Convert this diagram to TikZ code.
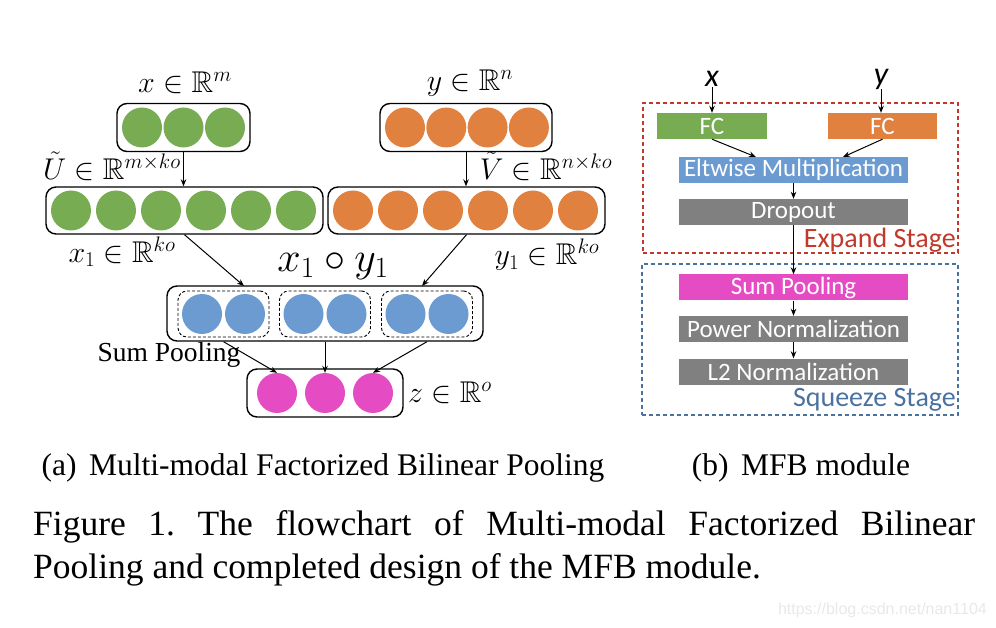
\RequirePackage{fix-cm}
\documentclass[tikz,border=0pt]{standalone}
\usepackage{amssymb}
\usepackage{fontspec}
\setmainfont{Liberation Serif}
\newfontfamily\calibrifont{Carlito}
\newfontfamily\markfont{Liberation Sans}
\usetikzlibrary{arrows.meta}

\definecolor{mfbgreen}{HTML}{78AC52}
\definecolor{mfborange}{HTML}{E0813F}
\definecolor{mfbblue}{HTML}{6B9BD1}
\definecolor{mfbpink}{HTML}{E54CC3}
\definecolor{mfbgray}{HTML}{808080}
\definecolor{mfbred}{HTML}{C0392B}
\definecolor{mfbnavy}{HTML}{4A72A0}

\begin{document}
\begin{tikzpicture}[x=1pt,y=-1pt,
  unit/.style={circle,inner sep=0pt,minimum size=40pt},
  vecbox/.style={draw,rounded corners=10pt,line width=1.4pt,inner sep=0pt},
  group/.style={draw,dash pattern=on 3pt off 2pt,rounded corners=9pt,line width=0.9pt,
    minimum width=91pt,minimum height=46pt,inner sep=0pt},
  arr/.style={-{Stealth[length=7pt,width=5.5pt]},line width=1pt},
  mathlab/.style={font=\fontsize{30}{36}\selectfont,inner sep=0pt},
  layer/.style={font=\calibrifont\fontsize{25}{28}\selectfont,text=white,
    minimum width=229pt,minimum height=26pt,inner sep=0pt},
  stage/.style={draw,dash pattern=on 4pt off 3pt,line width=1.2pt,inner sep=0pt},
  stagelab/.style={font=\calibrifont\fontsize{28}{32}\selectfont,inner sep=0pt,anchor=east}]
  \useasboundingbox (0,0) rectangle (996,628);

  % (a) input vectors
  \node[vecbox,minimum width=133pt,minimum height=48pt] (xin) at (183.5,127.5) {};
  \foreach \i in {1,...,3}
    \node[unit,fill=mfbgreen] (xin\i) at ({100.5+41.5*\i},127.5) {};
  \node[vecbox,minimum width=172pt,minimum height=48pt] (yin) at (466,127.5) {};
  \foreach \i in {1,...,4}
    \node[unit,fill=mfborange] (yin\i) at ({363.7+41.3*\i},127.5) {};
  \node[mathlab] (xlab) at (185,83) {$x\in\mathbb{R}^m$};
  \node[mathlab] (ylab) at (470,83) {$y\in\mathbb{R}^n$};

  % (a) projected vectors
  \node[vecbox,minimum width=277pt,minimum height=47pt] (xbig) at (184.5,210.5) {};
  \foreach \i in {1,...,6}
    \node[unit,fill=mfbgreen] (xbig\i) at ({26+45*\i},210.5) {};
  \node[vecbox,minimum width=277pt,minimum height=47pt] (ybig) at (466.5,210.5) {};
  \foreach \i in {1,...,6}
    \node[unit,fill=mfborange] (ybig\i) at ({308+45*\i},210.5) {};
  \node[mathlab] (ulab) at (112,166) {$\tilde{U}\in\mathbb{R}^{m\times ko}$};
  \node[mathlab] (vlab) at (546,166) {$\tilde{V}\in\mathbb{R}^{n\times ko}$};
  \node[mathlab] (x1lab) at (122,252) {$x_1\in\mathbb{R}^{ko}$};
  \node[mathlab] (y1lab) at (547,255) {$y_1\in\mathbb{R}^{ko}$};

  \draw[arr] (xin.south) -- (xin.south |- xbig.north);
  \draw[arr] (yin.south) -- (yin.south |- ybig.north);

  % (a) product and pooling
  \node[vecbox,minimum width=316pt,minimum height=55pt] (prod) at (325,313.5) {};
  \foreach \i/\cx in {1/223.5,2/325,3/427} {
    \node[group] (g\i) at (\cx,314) {};
    \node[unit,fill=mfbblue] (g\i a) at (\cx-21.5,314) {};
    \node[unit,fill=mfbblue] (g\i b) at (\cx+21.5,314) {};
  }
  \node[mathlab,font=\fontsize{42}{48}\selectfont] (prodlab) at (333,266) {$x_1\circ y_1$};
  \coordinate (px) at (244,286);
  \coordinate (py) at (422,286);
  \draw[arr] (xbig.south) -- (px);
  \draw[arr] (ybig.south) -- (py);

  \node[vecbox,minimum width=156pt,minimum height=48pt] (zvec) at (325,393) {};
  \foreach \i in {1,...,3}
    \node[unit,fill=mfbpink] (z\i) at ({229+48*\i},393) {};
  \node[mathlab] (zlab) at (450,393) {$z\in\mathbb{R}^o$};
  \node[font=\fontsize{27.5}{32}\selectfont,inner sep=0pt] (sumlab) at (169,355) {Sum Pooling};
  \foreach \i in {1,...,3}
    \draw[arr] (g\i.south |- prod.south) -- (z\i.north);

  % (b) MFB module
  \node[stage,draw=mfbred,minimum width=315pt,minimum height=150pt] (expand) at (800.5,178) {};
  \node[stage,draw=mfbnavy,minimum width=316pt,minimum height=151pt] (squeeze) at (800,339.5) {};
  \node[font=\calibrifont\itshape\fontsize{32}{36}\selectfont,inner sep=0pt] (xr) at (712,79) {x};
  \node[font=\calibrifont\itshape\fontsize{32}{36}\selectfont,inner sep=0pt] (yr) at (881,79) {y};
  \node[layer,fill=mfbgreen,minimum width=110pt] (fcx) at (712,126) {FC};
  \node[layer,fill=mfborange,minimum width=109pt] (fcy) at (882.5,126) {FC};
  \node[layer,fill=mfbblue] (elt) at (793.5,170) {Eltwise Multiplication};
  \node[layer,fill=mfbgray] (drop) at (793.5,212) {Dropout};
  \node[layer,fill=mfbpink] (sum) at (793.5,287.5) {Sum Pooling};
  \node[layer,fill=mfbgray] (pow) at (793.5,329) {Power Normalization};
  \node[layer,fill=mfbgray] (l2) at (793.5,371.5) {L2 Normalization};
  \node[stagelab,text=mfbred] (explab) at (956,240) {Expand Stage};
  \node[stagelab,text=mfbnavy] (sqzlab) at (956,400) {Squeeze Stage};

  \coordinate (ex) at (756,157);
  \coordinate (ey) at (843,157);
  \draw[arr] (xr.south) -- (xr.south |- fcx.north);
  \draw[arr] (yr.south) -- (yr.south |- fcy.north);
  \draw[arr] (fcx.south) -- (ex);
  \draw[arr] (fcy.south) -- (ey);
  \draw[arr] (elt) -- (drop);
  \draw[arr] (drop) -- (sum);
  \draw[arr] (sum) -- (pow);
  \draw[arr] (pow) -- (l2);

  % captions
  \node[font=\fontsize{31.5}{36}\selectfont,inner sep=0pt] (capa) at (323,468)
    {(a)\hspace{0.4em}Multi-modal Factorized Bilinear Pooling};
  \node[font=\fontsize{31.5}{36}\selectfont,inner sep=0pt] (capb) at (801,468)
    {(b)\hspace{0.4em}MFB module};
  \node[font=\fontsize{35.5}{43}\selectfont\frenchspacing,inner sep=0pt,anchor=base west] (fig1) at (33,535)
    {\makebox[942pt][s]{Figure 1. The flowchart of Multi-modal Factorized Bilinear}};
  \node[font=\fontsize{35.5}{43}\selectfont,inner sep=0pt,anchor=base west] (fig2) at (33,578)
    {Pooling and completed design of the MFB module.};
  \node[font=\markfont\fontsize{16}{18}\selectfont,text=black!9,inner sep=0pt,anchor=east] (mark) at (987,610)
    {https://blog.csdn.net/nan1104};
\end{tikzpicture}
\end{document}
